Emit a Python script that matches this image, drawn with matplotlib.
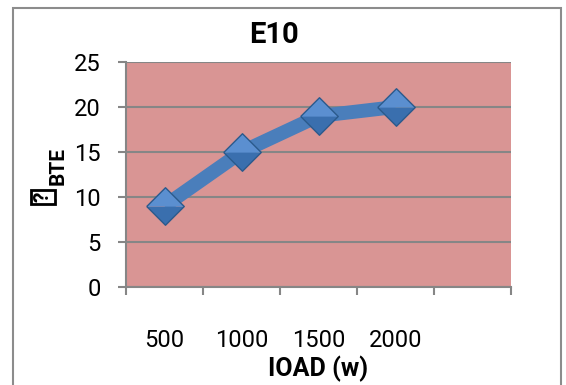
import numpy as np
import matplotlib.pyplot as plt
from matplotlib.patches import Rectangle

# chart data
loads = ['500', '1000', '1500', '2000']
bte = [9, 15, 19, 20]
yticks = [0, 5, 10, 15, 20, 25]

plt.rcParams['font.family'] = ['Roboto', 'DejaVu Sans']

fig = plt.figure(figsize=(5.66, 3.85), dpi=100)
ax = fig.add_axes([126 / 566, 1 - 287 / 385, 385 / 566, 225 / 385])

# outer chart border
fig.patches.append(Rectangle((13 / 566, -0.05), 548 / 566, 1.05 - 8 / 385,
                             transform=fig.transFigure, fill=False,
                             edgecolor='#8c8c8c', linewidth=1.5))

ax.set_facecolor('#d99594')
x = np.arange(len(loads))
ax.plot(x, bte, color='#4a7ebb', linewidth=10, solid_capstyle='butt', zorder=3)

# bevelled diamond markers: dark lower half, light upper half
top = [(-1, 0), (0, 1), (1, 0), (-1, 0)]
bottom = [(-1, 0), (0, -1), (1, 0), (-1, 0)]
full = [(-1, 0), (0, 1), (1, 0), (0, -1), (-1, 0)]
ms = 27
ax.plot(x, bte, linestyle='none', marker=bottom, markersize=ms,
        markerfacecolor='#3a6fae', markeredgewidth=0, zorder=4)
ax.plot(x, bte, linestyle='none', marker=top, markersize=ms,
        markerfacecolor='#5b8fd0', markeredgewidth=0, zorder=4)
ax.plot(x, bte, linestyle='none', marker=full, markersize=ms,
        markerfacecolor='none', markeredgecolor='#2b5a8c',
        markeredgewidth=1.0, zorder=5)

ax.set_xlim(-0.5, 4.5)
ax.set_ylim(0, 25)
ax.set_yticks(yticks)
ax.yaxis.grid(True, color='#868686', linewidth=1.5)
ax.set_axisbelow(True)

ax.set_xticks(np.arange(-0.5, 5.0, 1.0))
ax.set_xticklabels([])
ax.set_xticks(x, minor=True)
ax.set_xticklabels(loads, minor=True)
ax.tick_params(axis='x', which='minor', length=0, pad=30, labelsize=17)
ax.tick_params(axis='x', which='major', length=6, color='#868686', width=1.5)
ax.tick_params(axis='y', length=6, color='#868686', width=1.5, pad=12,
               labelsize=17)

for s in ['top', 'right']:
    ax.spines[s].set_visible(False)
for s in ['left', 'bottom']:
    ax.spines[s].set_color('#868686')
    ax.spines[s].set_linewidth(1.5)

ax.set_xlabel('IOAD (w)', fontsize=18, fontweight='bold', labelpad=3)
fig.text(274 / 566, 1 - 35 / 385, 'E10', ha='center', va='center',
         fontsize=21, fontweight='bold')

# y label: missing glyph box with BTE subscript
fig.text(43 / 566, 1 - 197 / 385, '?', rotation=90, ha='center', va='center',
         fontsize=15, fontweight='bold',
         bbox=dict(boxstyle='square,pad=0.1', facecolor='none',
                   edgecolor='black', linewidth=2))
fig.text(58 / 566, 1 - 166 / 385, 'BTE', rotation=90, ha='center',
         va='center', fontsize=15, fontweight='bold')

fig.savefig('out.png')
